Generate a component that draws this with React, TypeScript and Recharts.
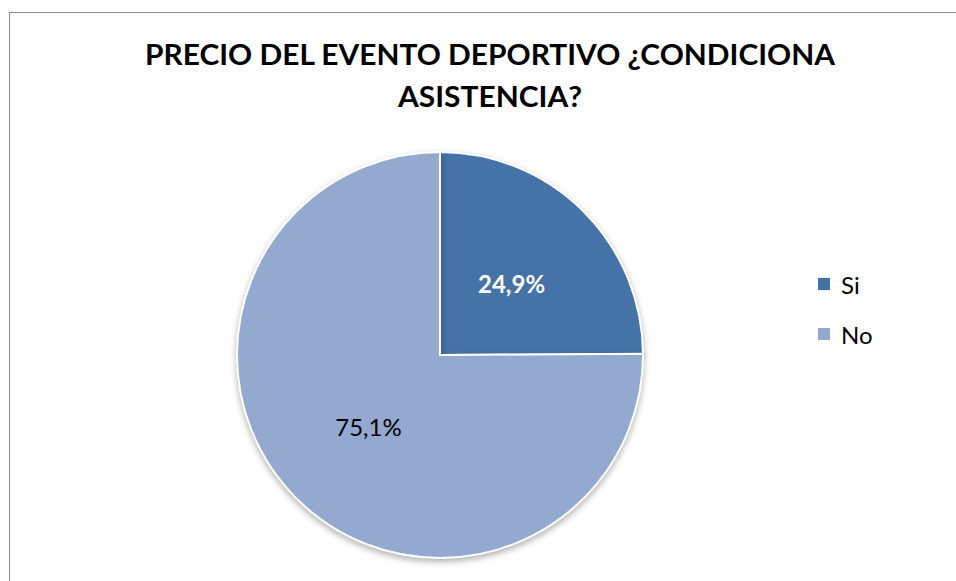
import React from 'react';
import { PieChart, Pie, Cell, Legend } from 'recharts';

const categories = ['Si', 'No'];
const shares = [24.9, 75.1];
const sliceColors = ['#4572A7', '#93A9CF'];
const titleLines = ['PRECIO DEL EVENTO DEPORTIVO ¿CONDICIONA', 'ASISTENCIA?'];

const data = categories.map((name, i) => ({ name, value: shares[i] }));

const RADIAN = Math.PI / 180;

const renderLabel = ({ cx, cy, midAngle, outerRadius, index, value }: any) => {
  const r = outerRadius * 0.5;
  const x = cx + r * Math.cos(-midAngle * RADIAN);
  const y = cy + r * Math.sin(-midAngle * RADIAN);
  const first = index === 0;
  return (
    <text
      x={x}
      y={y}
      textAnchor="middle"
      dominantBaseline="central"
      fontFamily="Lato, 'Open Sans', sans-serif"
      fontSize={24}
      fontWeight={first ? 700 : 400}
      fill={first ? '#ffffff' : '#000000'}
    >
      {value.toFixed(1).replace('.', ',')}%
    </text>
  );
};

const LegendBox = ({ payload }: any) => {
  const items = [...(payload || [])].sort(
    (a: any, b: any) => categories.indexOf(a.value) - categories.indexOf(b.value)
  );
  return (
    <div style={{ fontFamily: "Lato, 'Open Sans', sans-serif", fontSize: 24, color: '#000' }}>
      {items.map((entry: any, i: number) => (
        <div key={i} style={{ display: 'flex', alignItems: 'center', height: 50 }}>
          <span style={{ width: 12, height: 12, background: entry.color, marginRight: 11, display: 'inline-block' }} />
          <span>{entry.value}</span>
        </div>
      ))}
    </div>
  );
};

export default function App() {
  return (
    <div style={{ position: 'absolute', left: 0, top: 0, width: 956, height: 581, overflow: 'hidden', background: '#fff' }}>
      <style>{`.recharts-pie-sector{filter:drop-shadow(0px 3px 3px rgba(0,0,0,0.3))}`}</style>
      <div style={{ position: 'absolute', left: 9, top: 12, width: 1100, height: 700, border: '1.5px solid #8c8c8c' }} />
      <PieChart
        width={956}
        height={581}
        margin={{ top: 0, right: 0, bottom: 0, left: 0 }}
        style={{ position: 'absolute', left: 0, top: 0 }}
      >
        <text
          x={490}
          y={65}
          textAnchor="middle"
          fontFamily="Lato, 'Open Sans', sans-serif"
          fontWeight={700}
          fontSize={28}
          fill="#000"
          textLength={690}
          lengthAdjust="spacingAndGlyphs"
        >
          {titleLines[0]}
        </text>
        <text
          x={490}
          y={107}
          textAnchor="middle"
          fontFamily="Lato, 'Open Sans', sans-serif"
          fontWeight={700}
          fontSize={28}
          fill="#000"
          textLength={184}
          lengthAdjust="spacingAndGlyphs"
        >
          {titleLines[1]}
        </text>
        <Pie
          data={data}
          dataKey="value"
          nameKey="name"
          cx={440}
          cy={355}
          outerRadius={203}
          startAngle={90}
          endAngle={-270}
          stroke="#ffffff"
          strokeWidth={2}
          label={renderLabel}
          labelLine={false}
          isAnimationActive={false}
        >
          {data.map((d, i) => (
            <Cell key={d.name} fill={sliceColors[i]} />
          ))}
        </Pie>
        <Legend
          content={<LegendBox />}
          layout="vertical"
          wrapperStyle={{ position: 'absolute', left: 818, top: 259, width: 100 }}
        />
      </PieChart>
    </div>
  );
}
